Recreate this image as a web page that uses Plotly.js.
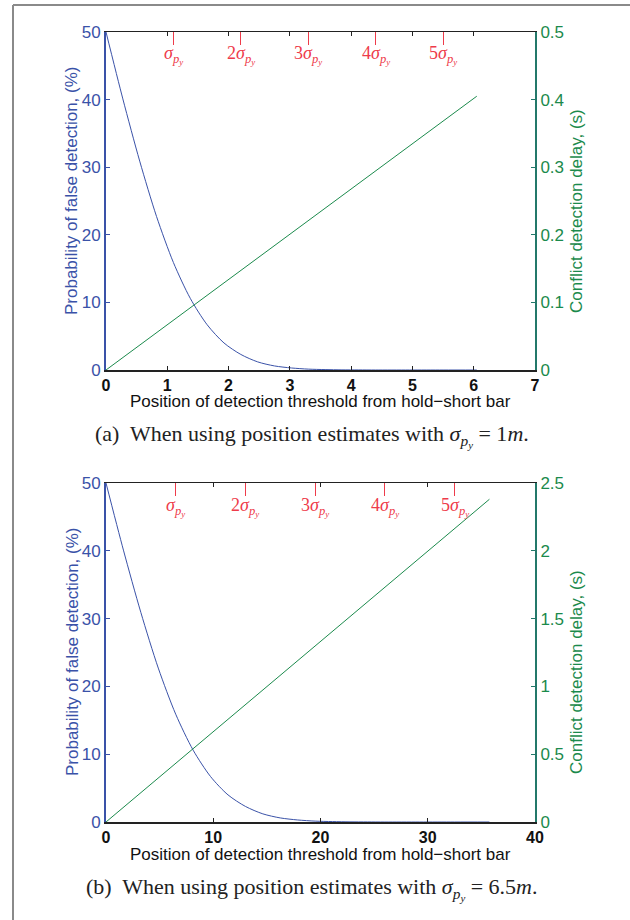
<!DOCTYPE html>
<html>
<head>
<meta charset="utf-8">
<script src="https://cdn.plot.ly/plotly-3.0.1.min.js"></script>
<style>html,body{margin:0;padding:0;background:#fff;}#chart{width:630px;height:920px;}</style>
</head>
<body>
<div id="chart"></div>
<script>
// ---- Data ----
// Panel (a): sigma = 1.1 (tick spacing in the picture)
const xA = [0, 0.275, 0.55, 0.825, 1.1, 1.375, 1.65, 1.925, 2.2, 2.475, 2.75, 3.025, 3.3, 3.575, 3.85, 4.125, 4.4, 4.95, 5.5, 6.05];
const probA = [50, 40.1, 30.9, 22.7, 15.9, 10.6, 6.7, 4.0, 2.3, 1.2, 0.6, 0.3, 0.13, 0.06, 0.02, 0.01, 0, 0, 0, 0];
const delayXA = [0, 6.05];
const delayA = [0, 0.405];
const sigmaTicksA = [1.1, 2.2, 3.3, 4.4, 5.5];

// Panel (b): sigma = 6.5
const xB = [0, 1.625, 3.25, 4.875, 6.5, 8.125, 9.75, 11.375, 13, 14.625, 16.25, 17.875, 19.5, 21.125, 22.75, 24.375, 26, 29.25, 32.5, 35.75];
const probB = [50, 40.1, 30.9, 22.7, 15.9, 10.6, 6.7, 4.0, 2.3, 1.2, 0.6, 0.3, 0.13, 0.06, 0.02, 0.01, 0, 0, 0, 0];
const delayXB = [0, 35.75];
const delayB = [0, 2.38];
const sigmaTicksB = [6.5, 13, 19.5, 26, 32.5];

const sigmaLabels = ["<i>σ</i><sub><i>p<sub>y</sub></i></sub>", "2<i>σ</i><sub><i>p<sub>y</sub></i></sub>", "3<i>σ</i><sub><i>p<sub>y</sub></i></sub>", "4<i>σ</i><sub><i>p<sub>y</sub></i></sub>", "5<i>σ</i><sub><i>p<sub>y</sub></i></sub>"];
const xTitle = "Position of detection threshold from hold\u2212short bar";
const yLeftTitle = "Probability of false detection, (%)";
const yRightTitle = "Conflict detection delay, (s)";
const captionA = "(a)  When using position estimates with <i>σ</i><sub><i>p<sub>y</sub></i></sub> = 1<i>m</i>.";
const captionB = "(b)  When using position estimates with <i>σ</i><sub><i>p<sub>y</sub></i></sub> = 6.5<i>m</i>.";

// ---- Styling ----
const W = 630, H = 920;
const BLUE = '#3a52a8', GREEN = '#1b8a4c', TEAL = '#23786a', RED = '#ee3b4a';
const SANS = 'Liberation Sans, Arial, Helvetica, sans-serif';
const SERIF = 'Liberation Serif, DejaVu Serif, serif';
const px = v => v / W, py = v => 1 - v / H;

const xDom = [px(106), px(535)];
const domA = [py(370), py(32)];
const domB = [py(822), py(483)];

const traces = [
  {x: xA, y: probA, xaxis: 'x', yaxis: 'y', mode: 'lines', line: {color: BLUE, width: 1, shape: 'spline', smoothing: 0.8}, hoverinfo: 'skip'},
  {x: delayXA, y: delayA, xaxis: 'x', yaxis: 'y2', mode: 'lines', line: {color: GREEN, width: 1}, hoverinfo: 'skip'},
  {x: xB, y: probB, xaxis: 'x2', yaxis: 'y3', mode: 'lines', line: {color: BLUE, width: 1, shape: 'spline', smoothing: 0.8}, hoverinfo: 'skip'},
  {x: delayXB, y: delayB, xaxis: 'x2', yaxis: 'y4', mode: 'lines', line: {color: GREEN, width: 1}, hoverinfo: 'skip'},
  // invisible carriers so the red sigma tick axes get drawn
  {x: sigmaTicksA, y: sigmaTicksA.map(() => null), xaxis: 'x3', yaxis: 'y', mode: 'markers', marker: {opacity: 0}, hoverinfo: 'skip'},
  {x: sigmaTicksB, y: sigmaTicksB.map(() => null), xaxis: 'x4', yaxis: 'y3', mode: 'markers', marker: {opacity: 0}, hoverinfo: 'skip'}
];

function xAxis(range, dtick, anchor) {
  return {domain: xDom, anchor: anchor, range: range, dtick: dtick, tick0: 0,
    ticks: 'inside', ticklen: 4, tickwidth: 1, tickcolor: '#222',
    showline: true, linecolor: '#222', linewidth: 1.5, mirror: 'ticks',
    showgrid: false, zeroline: false, fixedrange: true,
    tickfont: {family: SANS, size: 16, color: '#111', weight: 'bold'}};
}
function yLeft(dom, anchor) {
  return {domain: dom, anchor: anchor, range: [0, 50], dtick: 10, tick0: 0,
    ticks: 'inside', ticklen: 4, tickwidth: 1, tickcolor: BLUE,
    showline: true, linecolor: BLUE, linewidth: 2,
    showgrid: false, zeroline: false, fixedrange: true,
    tickfont: {family: SANS, size: 17, color: BLUE}};
}
function yRight(over, anchor, range, dtick) {
  return {overlaying: over, side: 'right', anchor: anchor, range: range, dtick: dtick, tick0: 0,
    ticks: 'inside', ticklen: 4, tickwidth: 1, tickcolor: TEAL,
    showline: true, linecolor: TEAL, linewidth: 2,
    showgrid: false, zeroline: false, fixedrange: true,
    tickfont: {family: SANS, size: 17, color: GREEN}};
}
function sigmaAxis(over, anchor, range, vals) {
  return {overlaying: over, side: 'top', anchor: anchor, range: range,
    tickmode: 'array', tickvals: vals, showticklabels: false,
    ticks: 'inside', ticklen: 13, tickwidth: 1, tickcolor: RED,
    showline: false, showgrid: false, zeroline: false, fixedrange: true};
}

const annotations = [];
function addSigmaLabels(xref, vals, yPix) {
  vals.forEach((v, i) => annotations.push({x: v, xref: xref, y: py(yPix), yref: 'paper',
    text: sigmaLabels[i], showarrow: false, xanchor: 'center', yanchor: 'middle',
    font: {family: SERIF, size: 18, color: RED}}));
}
addSigmaLabels('x', sigmaTicksA, 55);
addSigmaLabels('x2', sigmaTicksB, 507);

function addText(text, x, y, opts) {
  annotations.push(Object.assign({text: text, x: px(x), y: py(y), xref: 'paper', yref: 'paper',
    showarrow: false, xanchor: 'center', yanchor: 'middle'}, opts));
}
[[0, 191], [1, 652]].forEach(([k, cy]) => {
  addText(yLeftTitle, 72, cy, {textangle: -90, font: {family: SANS, size: 17, color: BLUE}});
  addText(yRightTitle, 576, cy + 20, {textangle: -90, font: {family: SANS, size: 17, color: GREEN}});
});
addText(xTitle, 320, 401, {font: {family: SANS, size: 17, color: '#111'}});
addText(xTitle, 320, 854, {font: {family: SANS, size: 17, color: '#111'}});
addText(captionA, 312, 436, {font: {family: SERIF, size: 22, color: '#222'}});
addText(captionB, 312, 889, {font: {family: SERIF, size: 22, color: '#222'}});

const layout = {
  width: W, height: H,
  margin: {l: 0, r: 0, t: 0, b: 0},
  paper_bgcolor: '#fff', plot_bgcolor: '#fff',
  showlegend: false,
  xaxis: xAxis([0, 7], 1, 'y'),
  yaxis: yLeft(domA, 'x'),
  yaxis2: yRight('y', 'x', [0, 0.5], 0.1),
  xaxis3: sigmaAxis('x', 'y', [0, 7], sigmaTicksA),
  xaxis2: xAxis([0, 40], 10, 'y3'),
  yaxis3: yLeft(domB, 'x2'),
  yaxis4: yRight('y3', 'x2', [0, 2.5], 0.5),
  xaxis4: sigmaAxis('x2', 'y3', [0, 40], sigmaTicksB),
  annotations: annotations,
  shapes: [
    {type: 'line', xref: 'paper', yref: 'paper', x0: px(13), x1: px(13), y0: 0, y1: py(5), line: {color: '#8a8a8a', width: 2}},
    {type: 'line', xref: 'paper', yref: 'paper', x0: px(13), x1: 1, y0: py(5), y1: py(5), line: {color: '#8a8a8a', width: 2}}
  ]
};

Plotly.newPlot('chart', traces, layout, {staticPlot: true, displayModeBar: false});
</script>
</body>
</html>
